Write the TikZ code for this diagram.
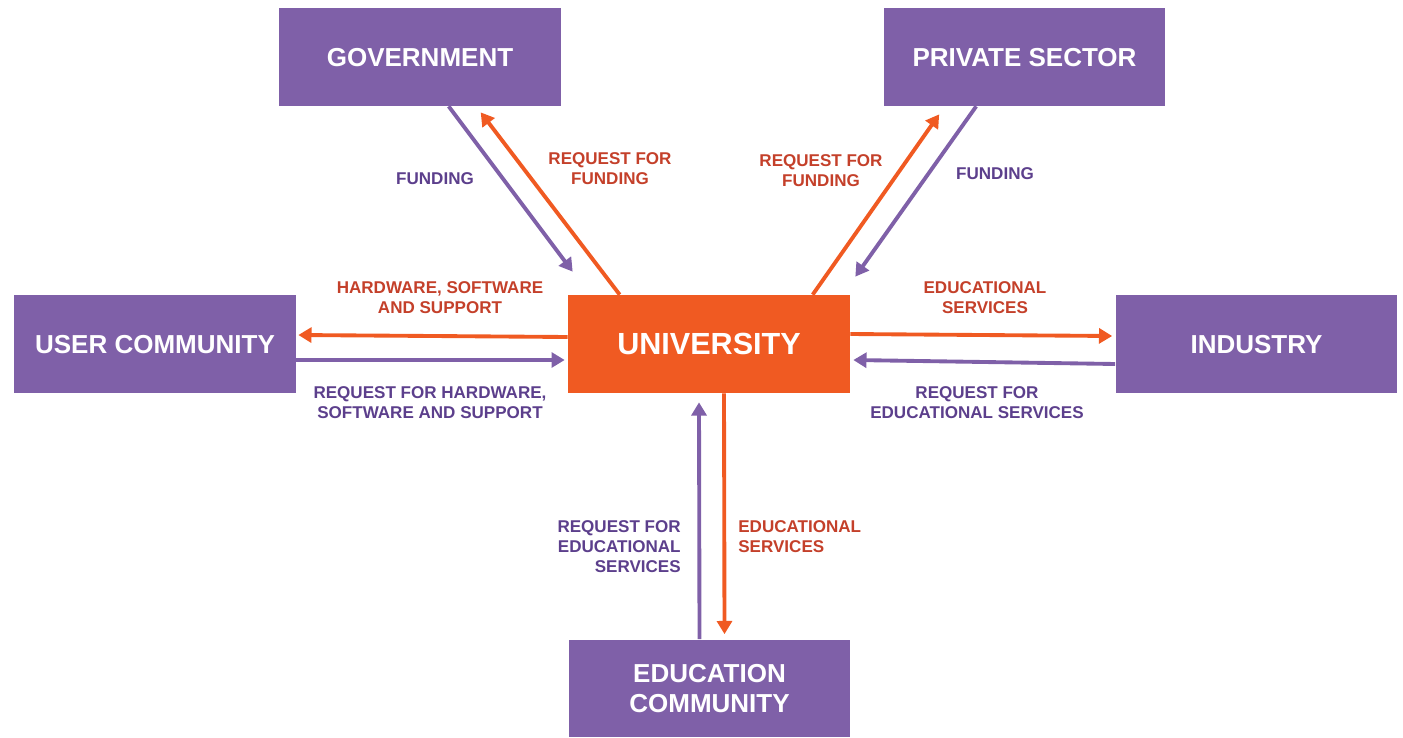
\documentclass[tikz,border=0pt]{standalone}
\usepackage{fontspec}
\setmainfont{Liberation Sans}
\usetikzlibrary{calc,arrows.meta}
\definecolor{boxpurple}{HTML}{7F60A8}
\definecolor{uniorange}{HTML}{F05A22}
\definecolor{txtpurple}{HTML}{5C3F8C}
\definecolor{txtorange}{HTML}{C4402A}

\begin{document}
\begin{tikzpicture}[x=0.02cm,y=-0.02cm,
		party/.style={fill=boxpurple,text=white,minimum width=5.64cm,minimum height=1.96cm,inner sep=0pt,text depth=0pt,align=center,font=\fontsize{14.8}{17}\selectfont\bfseries},
		hub/.style={party,fill=uniorange,font=\fontsize{17.4}{20}\selectfont\bfseries},
		plab/.style={text=txtpurple,inner sep=0pt,font=\fontsize{9.7}{11.4}\selectfont\bfseries},
		olab/.style={plab,text=txtorange},
		pto/.style={draw=boxpurple,line width=2.2pt,-{Triangle[length=7.5pt,width=8.5pt]}},
		oto/.style={pto,draw=uniorange,fill=uniorange}]
			\useasboundingbox (0,0) rectangle (1403,737);
			\node[party] (gov) at (420,57) {GOVERNMENT};
			\node[party] (priv) at (1024.5,57) {PRIVATE SECTOR};
			\node[party] (user) at (155,344) {USER COMMUNITY};
			\node[hub] (univ) at (709,344) {UNIVERSITY};
			\node[party] (ind) at (1256.5,344) {INDUSTRY};
			\node[party] (edu) at (709.5,688.5) {EDUCATION\\COMMUNITY};
			% government
			\draw[pto,fill=boxpurple] ($(gov.south west)+(170,0)$) -- ($(univ.north west)+(5,-23)$);
			\draw[oto] ($(univ.north west)+(52,0)$) -- ($(gov.south west)+(202,6)$);
			% private sector
			\draw[oto] ($(univ.north west)+(245,0)$) -- ($(priv.south west)+(56,8)$);
			\draw[pto,fill=boxpurple] ($(priv.south west)+(93,0)$) -- ($(univ.north east)+(5,-18)$);
			% user community
			\draw[oto] ($(univ.west)+(0,-7)$) -- ($(user.east)+(2,-9)$);
			\draw[pto,fill=boxpurple] ($(user.east)+(0,16)$) -- ($(univ.west)+(-3,16)$);
			% industry
			\draw[oto] ($(univ.east)+(0,-10)$) -- ($(ind.west)+(-3,-8)$);
			\draw[pto,fill=boxpurple] ($(ind.west)+(0,20)$) -- ($(univ.east)+(3,16)$);
			% education community
			\draw[pto,fill=boxpurple] ($(edu.north)+(-10,0)$) -- ($(univ.south)+(-10,9)$);
			\draw[oto] ($(univ.south)+(15,0)$) -- ($(edu.north)+(15,-5)$);
			% labels
			\node[plab] (lgf) at (435,179) {FUNDING};
			\node[olab,align=center] (lgr) at (610,169) {REQUEST FOR\\FUNDING};
			\node[olab,align=center] (lpr) at (821,171) {REQUEST FOR\\FUNDING};
			\node[plab] (lpf) at (995,174) {FUNDING};
			\node[olab,align=center] (luh) at (440,298) {HARDWARE, SOFTWARE\\AND SUPPORT};
			\node[plab,align=center] (lur) at (430,403) {REQUEST FOR HARDWARE,\\SOFTWARE AND SUPPORT};
			\node[olab,align=center] (lie) at (985,298) {EDUCATIONAL\\SERVICES};
			\node[plab,align=center] (lir) at (977,403) {REQUEST FOR\\EDUCATIONAL SERVICES};
			\node[plab,align=right,anchor=east] (ler) at (681,547) {REQUEST FOR\\EDUCATIONAL\\SERVICES};
			\node[olab,align=left,anchor=west] (lee) at (738,537) {EDUCATIONAL\\SERVICES};
		\end{tikzpicture}
\end{document}
